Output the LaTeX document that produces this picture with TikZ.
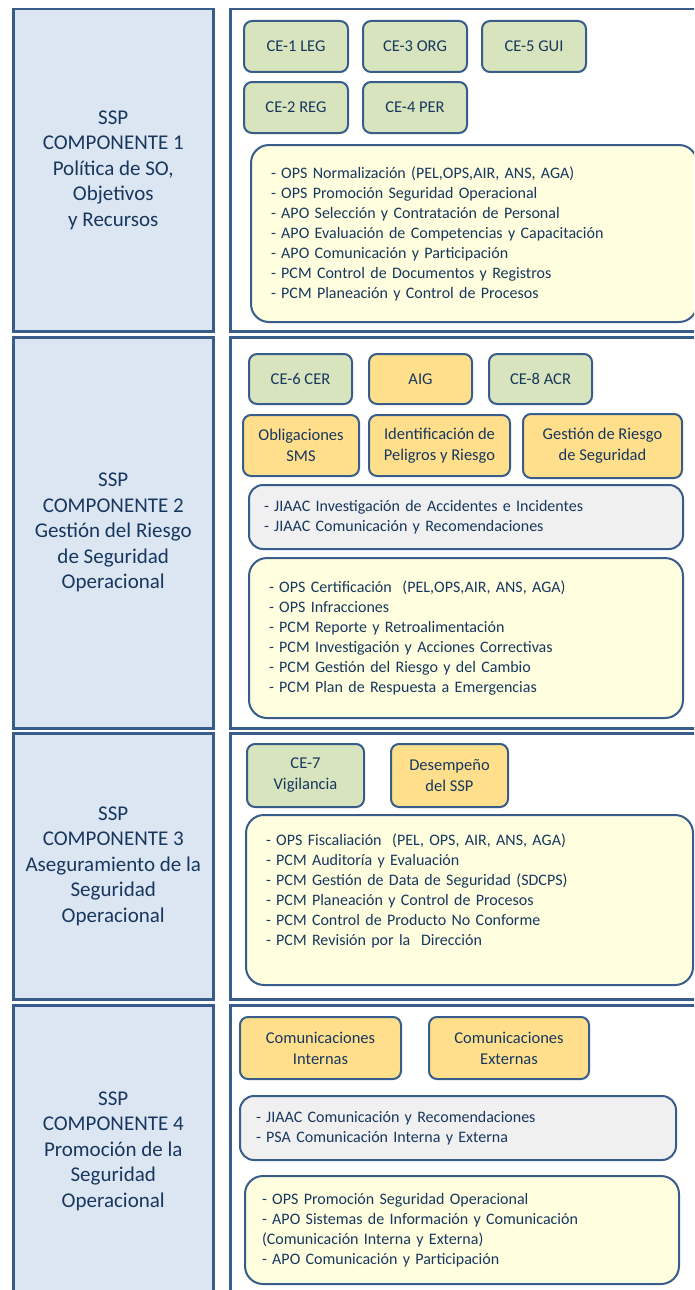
\documentclass[tikz,border=0pt]{standalone}
\usepackage{fontspec}
\setmainfont{Carlito}
\definecolor{sspline}{HTML}{385D8A}
\definecolor{ssptext}{HTML}{17375E}
\definecolor{sspblue}{HTML}{DCE6F2}
\definecolor{sspgreen}{HTML}{D7E4BD}
\definecolor{ssporange}{HTML}{FFDF8C}
\definecolor{sspyellow}{HTML}{FFFFDF}
\definecolor{sspgray}{HTML}{F0F0F0}
\tikzset{
  comp/.style={draw=sspline, line width=2.5pt, fill=sspblue, text=ssptext, align=center, anchor=north west, inner sep=0pt, minimum width=200pt, font=\fontsize{21}{25.5}\selectfont},
  panel/.style={draw=sspline, line width=2.5pt, fill=white, anchor=north west, inner sep=0pt, minimum width=490pt},
  tag/.style={draw=sspline, line width=2pt, rounded corners=8pt, text=ssptext, align=center, anchor=north west, inner sep=0pt, font=\fontsize{16.5}{21}\selectfont},
  cebox/.style={tag, fill=sspgreen},
  ssptag/.style={tag, fill=ssporange},
  listbox/.style={draw=sspline, line width=2pt, rounded corners=18pt, fill=sspyellow, text=ssptext, align=left, anchor=north west, inner ysep=0pt, font=\fontsize{16}{20}\selectfont},
  graybox/.style={listbox, fill=sspgray, rounded corners=14pt}
}

\begin{document}
\begin{tikzpicture}[x=1pt, y=-1pt]
        \useasboundingbox (0,0) rectangle (694,1290);
        \clip (0,0) rectangle (694,1290);

        \node (panel1) [panel, minimum height=322pt] at (229,8) {};
        \node (comp1) [comp, minimum height=322pt] at (12,8) {SSP\\COMPONENTE 1\\Política de SO,\\Objetivos\\y Recursos};
        \node (ce1) [cebox, minimum width=104pt, minimum height=51pt] at (243,20) {CE-1 LEG};
        \node (ce3) [cebox, minimum width=104pt, minimum height=51pt] at (362,20) {CE-3 ORG};
        \node (ce5) [cebox, minimum width=104pt, minimum height=51pt] at (481,20) {CE-5 GUI};
        \node (ce2) [cebox, minimum width=104pt, minimum height=51pt] at (243,81) {CE-2 REG};
        \node (ce4) [cebox, minimum width=104pt, minimum height=51pt] at (362,81) {CE-4 PER};
        \node (list1) [listbox, minimum width=446pt, minimum height=177pt, inner xsep=20pt, text width=406pt] at (250,144) {- OPS Normalización (PEL,OPS,AIR, ANS, AGA)\\- OPS Promoción Seguridad Operacional\\- APO Selección y Contratación de Personal\\- APO Evaluación de Competencias y Capacitación\\- APO Comunicación y Participación\\- PCM Control de Documentos y Registros\\- PCM Planeación y Control de Procesos};

        \node (panel2) [panel, minimum height=391pt] at (229,336) {};
        \node (comp2) [comp, minimum height=391pt] at (12,336) {SSP\\COMPONENTE 2\\Gestión del Riesgo\\de Seguridad\\Operacional};
        \node (ce6) [cebox, minimum width=103pt, minimum height=50pt] at (248,353) {CE-6 CER};
        \node (aig) [ssptag, minimum width=103pt, minimum height=50pt] at (368,353) {AIG};
        \node (ce8) [cebox, minimum width=103pt, minimum height=50pt] at (488,353) {CE-8 ACR};
        \node (oblig) [ssptag, minimum width=116pt, minimum height=61pt] at (242,414) {Obligaciones\\SMS};
        \node (ident) [ssptag, minimum width=141pt, minimum height=61pt] at (368,414) {Identificación de\\Peligros y Riesgo};
        \node (gestion) [ssptag, minimum width=159pt, minimum height=64pt] at (522,413) {Gestión de Riesgo\\de Seguridad};
        \node (jiaac) [graybox, minimum width=434pt, minimum height=64pt, inner xsep=15pt, text width=404pt] at (248,484) {- JIAAC Investigación de Accidentes e Incidentes\\- JIAAC Comunicación y Recomendaciones};
        \node (list2) [listbox, minimum width=434pt, minimum height=160pt, inner xsep=20pt, text width=394pt] at (248,557) {- OPS Certificación\ \ (PEL,OPS,AIR, ANS, AGA)\\- OPS Infracciones\\- PCM Reporte y Retroalimentación\\- PCM Investigación y Acciones Correctivas\\- PCM Gestión del Riesgo y del Cambio\\- PCM Plan de Respuesta a Emergencias};

        \node (panel3) [panel, minimum height=266pt] at (229,732) {};
        \node (comp3) [comp, minimum height=266pt] at (12,732) {SSP\\COMPONENTE 3\\Aseguramiento de la\\Seguridad\\Operacional};
        \node (ce7) [cebox, minimum width=117pt, minimum height=63pt] at (246,743) {CE-7\\Vigilancia};
        \node (desemp) [ssptag, minimum width=117pt, minimum height=63pt] at (390,743) {Desempeño\\del SSP};
        \node (list3) [listbox, minimum width=447pt, minimum height=170pt, inner xsep=20pt, text width=407pt] at (245,814) {- OPS Fiscaliación\ \ (PEL, OPS, AIR, ANS, AGA)\\- PCM Auditoría y Evaluación\\- PCM Gestión de Data de Seguridad (SDCPS)\\- PCM Planeación y Control de Procesos\\- PCM Control de Producto No Conforme\\- PCM Revisión por la\ \ Dirección\\\mbox{}};

        \node (panel4) [panel, minimum height=296pt] at (229,1004) {};
        \node (comp4) [comp, minimum height=292pt] at (12,1004) {SSP\\COMPONENTE 4\\Promoción de la\\Seguridad\\Operacional};
        \node (cint) [ssptag, minimum width=161pt, minimum height=62pt] at (239,1016) {Comunicaciones\\Internas};
        \node (cext) [ssptag, minimum width=160pt, minimum height=62pt] at (428,1016) {Comunicaciones\\Externas};
        \node (psa) [graybox, minimum width=436pt, minimum height=64pt, inner xsep=16pt, text width=404pt] at (239,1095) {- JIAAC Comunicación y Recomendaciones\\- PSA Comunicación Interna y Externa};
        \node (list4) [listbox, minimum width=434pt, minimum height=108pt, inner xsep=17pt, text width=400pt] at (244,1175) {- OPS Promoción Seguridad Operacional\\- APO Sistemas de Información y Comunicación\\(Comunicación Interna y Externa)\\- APO Comunicación y Participación};
    \end{tikzpicture}
\end{document}
